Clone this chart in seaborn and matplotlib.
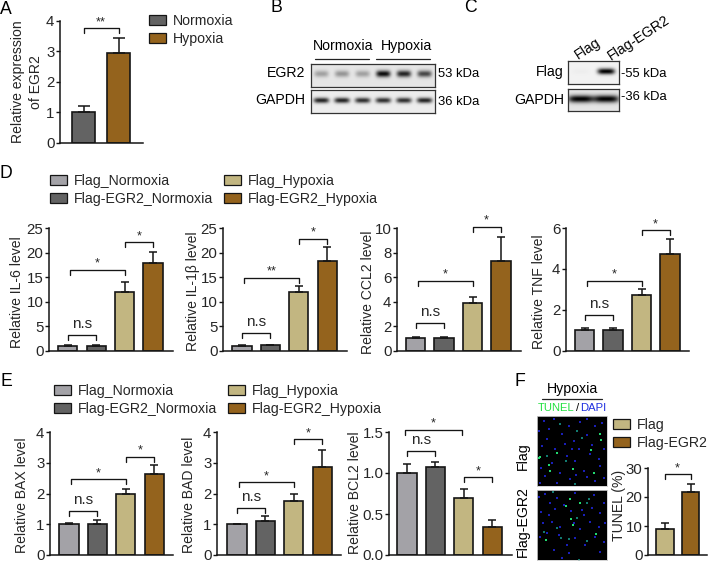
import numpy as np
import matplotlib
matplotlib.use("Agg")
import matplotlib.pyplot as plt
from matplotlib.patches import Patch
import seaborn as sns

sns.set_theme(style="ticks")
plt.rcParams['font.family'] = ['Liberation Sans', 'DejaVu Sans']

W, H = 708, 561
FS = 10.2
GRAY, DARK, KHAKI, BROWN = "#a3a2a7", "#636363", "#c2b681", "#94631d"

# values
groups = ["Flag_Normoxia", "Flag-EGR2_Normoxia", "Flag_Hypoxia", "Flag-EGR2_Hypoxia"]
egr2_groups = ["Normoxia", "Hypoxia"]
egr2_vals = [1.0, 2.93]
egr2_err = [0.2, 0.49]
il6_vals = [1.0, 1.0, 12.0, 17.8]
il6_err = [0.15, 0.15, 1.9, 2.4]
il1b_vals = [1.0, 1.1, 12.0, 18.2]
il1b_err = [0.2, 0.15, 1.1, 2.9]
ccl2_vals = [1.0, 1.0, 3.85, 7.35]
ccl2_err = [0.08, 0.15, 0.55, 1.9]
tnf_vals = [1.0, 1.03, 2.7, 4.75]
tnf_err = [0.1, 0.09, 0.32, 0.7]
bax_vals = [1.0, 1.02, 1.97, 2.62]
bax_err = [0.04, 0.13, 0.18, 0.3]
bad_vals = [1.0, 1.12, 1.75, 2.87]
bad_err = [0.02, 0.14, 0.25, 0.55]
bcl2_vals = [1.0, 1.07, 0.69, 0.34]
bcl2_err = [0.11, 0.06, 0.12, 0.09]
tunel_groups = ["Flag", "Flag-EGR2"]
tunel_vals = [8.8, 21.6]
tunel_err = [2.2, 2.8]

# blot band strengths
egr2_bands = [0.3, 0.35, 0.3, 0.95, 0.85, 0.7]
gapdh_bands = [0.85, 0.85, 0.8, 0.8, 0.8, 0.85]
flag_bands = [0.02, 1.0]
gapdh2_bands = [1.0, 1.0]

# microscope spots, position in the field 0-210
f1_green_x = [188, 192, 163, 8, 7, 60, 37, 38, 107, 172]
f1_green_y = [54, 72, 102, 122, 126, 110, 147, 165, 158, 170]
f1_teal_x = [120, 135, 68, 115, 88, 30]
f1_teal_y = [44, 65, 24, 204, 136, 120]
f1_blue_x = [5, 20, 50, 95, 130, 150, 175, 195, 30, 75, 110, 150, 200, 15, 55, 85, 125, 160, 185, 12, 45, 90, 115, 118, 150, 190, 25, 70, 100, 140, 175, 200, 60, 35, 165, 10, 105]
f1_blue_y = [46, 15, 10, 30, 18, 8, 30, 20, 70, 55, 75, 58, 100, 90, 98, 85, 100, 115, 130, 155, 140, 120, 135, 178, 183, 150, 180, 170, 190, 165, 195, 185, 200, 38, 88, 200, 100]
f2_green_x = [99, 87, 101, 107, 176, 26, 128]
f2_green_y = [28, 47, 88, 105, 132, 150, 38]
f2_teal_x = [95, 72, 150, 150, 47, 120, 20, 60, 155, 125]
f2_teal_y = [148, 145, 152, 40, 6, 85, 125, 115, 28, 210]
f2_blue_x = [5, 25, 40, 60, 115, 135, 170, 200, 12, 35, 55, 80, 103, 140, 165, 190, 18, 45, 70, 110, 130, 160, 185, 205, 10, 30, 65, 90, 115, 145, 175, 200, 50, 95, 190, 75]
f2_blue_y = [20, 12, 40, 25, 10, 60, 15, 40, 65, 75, 58, 45, 62, 75, 55, 70, 100, 95, 110, 100, 118, 95, 110, 98, 140, 130, 135, 165, 145, 165, 140, 155, 180, 190, 185, 205]


def px_axes(left, top, right, bottom):
    return fig.add_axes([left / W, 1 - bottom / H, (right - left) / W, (bottom - top) / H])


def put(x, y, s, **kw):
    kw.setdefault("fontsize", FS)
    kw.setdefault("ha", "center")
    kw.setdefault("va", "center")
    kw.setdefault("color", "black")
    fig.text(x / W, 1 - y / H, s, **kw)


def hline(x1, x2, y, lw=0.9, color="#222222"):
    fig.add_artist(plt.Line2D([x1 / W, x2 / W], [1 - y / H, 1 - y / H], lw=lw, color=color))


def bar_panel(box, cats, vals, errs, colors, ymax, ticks, ylabel, label_xy, brackets, step, first, barw, capsize=2.9, ticklabels=None):
    left, top, right, bottom = box
    ax = px_axes(left, top, right, bottom)
    sns.barplot(x=cats, y=vals, hue=cats, palette=colors, legend=False, saturation=1,
                width=barw / step, edgecolor="#151515", linewidth=1.2, errorbar=None, ax=ax)
    xs = np.arange(len(cats))
    ax.errorbar(xs, vals, yerr=[np.zeros(len(vals)), errs], fmt="none", ecolor="#151515",
                elinewidth=1.1, capsize=capsize, capthick=1.1)
    ax.set_xlim(-(first - left) / step, (right - first) / step)
    ax.set_ylim(0, ymax)
    ax.set_yticks(ticks)
    if ticklabels:
        ax.set_yticklabels(ticklabels)
    ax.set_xticks([])
    ax.set_xlabel("")
    ax.tick_params(axis="y", labelsize=FS + 0.6, width=1.0, length=3, pad=1, color="#151515")
    for s in ["left", "bottom"]:
        ax.spines[s].set_linewidth(1.1)
        ax.spines[s].set_color("#151515")
    sns.despine(ax=ax)
    ax.patch.set_alpha(0)
    ax.set_ylabel(ylabel, fontsize=FS - 0.1, va="center", ha="center", linespacing=1.3)
    ax.yaxis.set_label_coords(label_xy[0] / W, 1 - label_xy[1] / H, transform=fig.transFigure)
    drop = ymax * 5 / (bottom - top)
    for x1, x2, y, txt in brackets:
        ax.plot([x1, x1, x2, x2], [y - drop, y, y, y - drop], color="#151515", lw=0.95, clip_on=False)
        off = 11 if txt == "n.s" else 6
        fs = FS + 0.8 if txt == "n.s" else FS - 1
        ax.annotate(txt, ((x1 + x2) / 2, y), xytext=(0, off), textcoords="offset pixels",
                    ha="center", va="center", fontsize=fs, annotation_clip=False)
    return ax


def blot(box, bands, background, band_h, band_w):
    left, top, right, bottom = box
    ax = px_axes(left, top, right, bottom)
    nx, ny = (right - left) * 4, (bottom - top) * 4
    xx, yy = np.meshgrid(np.linspace(0, 1, nx), np.linspace(0, 1, ny))
    img = np.full((ny, nx), background, dtype=float)
    n = len(bands)
    for i, b in enumerate(bands):
        cx = (i + 0.5) / n
        img -= background * b * np.exp(-((np.abs(xx - cx) / band_w) ** 4) - ((yy - 0.45) / band_h) ** 2)
    ax.imshow(np.clip(img, 0, 1), cmap="gray", vmin=0, vmax=1, aspect="auto")
    ax.set_xticks([])
    ax.set_yticks([])
    for s in ax.spines.values():
        s.set_linewidth(0.9)
        s.set_color("#333333")
    return ax


def field(box, gx, gy, tx, ty, bx, by):
    ax = px_axes(*box)
    ax.set_facecolor("black")
    ax.scatter(bx, by, s=3, marker="s", color="#1a1fb8", linewidths=0)
    ax.scatter(tx, ty, s=3, marker="s", color="#127a70", linewidths=0)
    ax.scatter(gx, gy, s=4, marker="s", color="#22d870", linewidths=0)
    ax.set_xlim(0, 210)
    ax.set_ylim(210, 0)
    ax.set_xticks([])
    ax.set_yticks([])
    for s in ax.spines.values():
        s.set_color("#cccccc")
        s.set_linewidth(0.6)


def legend(x, y, names, colors, ncols, spacing=0.72, fs=FS):
    handles = [Patch(facecolor=c, edgecolor="#151515", linewidth=0.9) for c in colors]
    fig.legend(handles, names, loc="upper left", bbox_to_anchor=(x / W, 1 - y / H), ncols=ncols,
               frameon=False, borderpad=0, borderaxespad=0, handlelength=1.2, handleheight=0.62,
               handletextpad=0.5, labelspacing=0.28, columnspacing=spacing, fontsize=fs)


fig = plt.figure(figsize=(W / 100, H / 100), dpi=100, facecolor="white")
four = [GRAY, DARK, KHAKI, BROWN]

# panel letters
for x, y, s in [(6, 9, "A"), (276, 8, "B"), (470, 7, "C"), (6, 174, "D"), (6, 381, "E"), (520, 381, "F")]:
    put(x, y, s, fontsize=FS + 2.5)

# A
bar_panel((60, 20.7, 143, 143), egr2_groups, egr2_vals, egr2_err, [DARK, BROWN], 4, [0, 1, 2, 3, 4],
          "Relative expression\nof EGR2", (27, 82), [(0, 1, 3.75, "**")], 35, 83.5, 23.5, capsize=4.2)
legend(149, 14, egr2_groups, [DARK, BROWN], 1)

# B
put(343, 46, "Normoxia")
put(406, 46, "Hypoxia")
hline(315, 369, 59)
hline(376, 430, 59)
blot((311, 64, 435, 87), egr2_bands, 0.9, 0.14, 0.058)
blot((311, 90, 435, 113), gapdh_bands, 0.93, 0.12, 0.062)
put(305, 73, "EGR2", ha="right")
put(305, 100, "GAPDH", ha="right")
put(438, 74, "53 kDa", ha="left", fontsize=FS - 0.8)
put(438, 102, "36 kDa", ha="left", fontsize=FS - 0.8)

# C
blot((568, 61, 619, 84), flag_bands, 0.95, 0.13, 0.17)
blot((568, 89, 619, 111), gapdh2_bands, 0.9, 0.17, 0.25)
put(564, 72, "Flag", ha="right")
put(564, 100, "GAPDH", ha="right")
put(621, 74, "-55 kDa", ha="left", fontsize=FS - 0.8)
put(621, 97, "-36 kDa", ha="left", fontsize=FS - 0.8)
put(588, 49, "Flag", rotation=33, rotation_mode="anchor")
put(638.5, 38, "Flag-EGR2", rotation=33, rotation_mode="anchor")

# D
legend(50, 174, groups, four, 2)
s, w = 28.4, 19.3
bar_panel((49, 228, 173, 350.7), groups, il6_vals, il6_err, four, 25, [0, 5, 10, 15, 20, 25],
          "Relative IL-6 level", (17, 292), [(0, 1, 3.3, "n.s"), (0.07, 2, 16.5, "*"), (2, 3, 22.1, "*")], s, 67.8, w)
bar_panel((223, 228, 347, 350.7), groups, il1b_vals, il1b_err, four, 25, [0, 5, 10, 15, 20, 25],
          "Relative IL-1\u03b2 level", (193, 291), [(0, 1, 3.6, "n.s"), (0.07, 2, 14.9, "**"), (2, 3, 22.8, "*")], s, 242, w)
bar_panel((397, 228, 521, 350.7), groups, ccl2_vals, ccl2_err, four, 10, [0, 2, 4, 6, 8, 10],
          "Relative CCL2 level", (368, 292), [(0, 1, 2.23, "n.s"), (0.07, 2, 5.72, "*"), (2, 3, 10.1, "*")], s, 415.7, w)
bar_panel((566, 228, 689, 350.7), groups, tnf_vals, tnf_err, four, 6, [0, 2, 4, 6],
          "Relative TNF level", (539, 292), [(0, 1, 1.75, "n.s"), (0.07, 2, 3.43, "*"), (2, 3, 5.88, "*")], s, 584.7, w)

# E
legend(54, 384, groups, four, 2)
bar_panel((50, 432, 173, 555), groups, bax_vals, bax_err, four, 4, [0, 1, 2, 3, 4],
          "Relative BAX level", (22, 495), [(0, 1, 1.43, "n.s"), (0.07, 2, 2.47, "*"), (2, 3, 3.2, "*")], s, 69, w)
bar_panel((217, 432, 341, 555), groups, bad_vals, bad_err, four, 4, [0, 1, 2, 3, 4],
          "Relative BAD level", (189, 495), [(0, 1, 1.52, "n.s"), (0.07, 2, 2.37, "*"), (2, 3, 3.77, "*")], s, 237, w)
bar_panel((389, 432, 512, 555), groups, bcl2_vals, bcl2_err, four, 1.5, [0, 0.5, 1.0, 1.5],
          "Relative BCL2 level", (355, 493), [(0, 1, 1.27, "n.s"), (-0.07, 1.93, 1.53, "*"), (2, 3, 0.95, "*")], s, 407, w,
          ticklabels=["0.0", "0.5", "1.0", "1.5"])

# F
put(572, 389, "Hypoxia")
hline(542, 602, 399)
put(538, 408, "TUNEL", ha="left", color="#22e040", fontsize=FS - 2.1)
put(576, 408, "/", ha="left", fontsize=FS - 2.1)
put(580, 408, "DAPI", ha="left", color="#2030e0", fontsize=FS - 2.1)
field((537, 416, 607, 486), f1_green_x, f1_green_y, f1_teal_x, f1_teal_y, f1_blue_x, f1_blue_y)
field((537, 490, 607, 560), f2_green_x, f2_green_y, f2_teal_x, f2_teal_y, f2_blue_x, f2_blue_y)
put(523, 456, "Flag", rotation=90)
put(523, 522, "Flag-EGR2", rotation=90)
legend(613, 418, tunel_groups, [KHAKI, BROWN], 1)
bar_panel((648, 468, 707, 555), tunel_groups, tunel_vals, tunel_err, [KHAKI, BROWN], 30, [0, 10, 20, 30],
          "TUNEL (%)", (619, 505), [(0, 1, 27.9, "*")], 25.5, 665, 17.3)

fig.savefig("out.png", dpi=100)
